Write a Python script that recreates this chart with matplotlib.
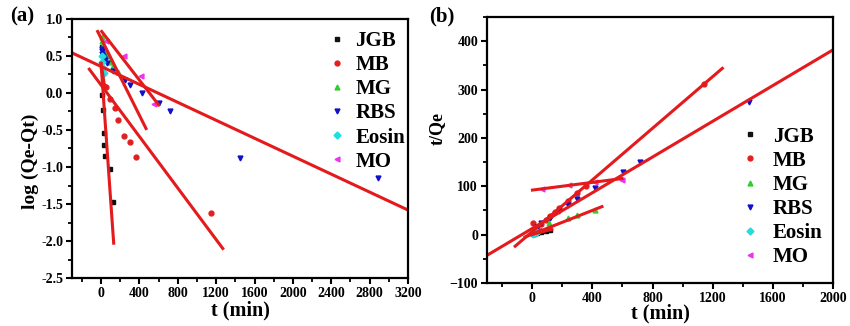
import numpy as np
import matplotlib
matplotlib.use("Agg")
import matplotlib.pyplot as plt

plt.rcParams['font.family'] = ['Liberation Serif', 'DejaVu Serif']
plt.rcParams['font.weight'] = 'bold'

dyes = ["JGB", "MB", "MG", "RBS", "Eosin", "MO"]
colors = ["#111111", "#e02020", "#33cc33", "#1010c8", "#22dddd", "#ee33ee"]
markers = ["s", "o", "^", "v", "D", "<"]

# (a) pseudo-first-order: t (min) vs log(Qe-Qt)
ta_jgb = [5, 7, 18, 28, 34, 45, 97, 128]
ya_jgb = [0.62, -0.03, -0.23, -0.54, -0.70, -0.85, -1.03, -1.47]
ta_mb = [30, 52, 97, 146, 181, 243, 306, 365, 1147]
ya_mb = [0.10, 0.075, -0.085, -0.20, -0.36, -0.58, -0.66, -0.87, -1.62]
ta_mg = [5, 10, 20, 30, 45, 60, 90, 120, 180]
ya_mg = [0.75, 0.70, 0.65, 0.60, 0.55, 0.50, 0.42, 0.36, 0.28]
ta_rbs = [5, 10, 15, 20, 30, 45, 60, 122, 254, 306, 428, 608, 723, 1449, 2892]
ya_rbs = [0.60, 0.56, 0.53, 0.50, 0.47, 0.44, 0.40, 0.29, 0.18, 0.11, 0.005, -0.14, -0.24, -0.875, -1.15]
ta_eo = [5, 10, 20, 30]
ya_eo = [0.50, 0.42, 0.34, 0.27]
ta_mo = [52, 243, 417, 549]
ya_mo = [0.70, 0.50, 0.23, -0.15]
ta_all = [ta_jgb, ta_mb, ta_mg, ta_rbs, ta_eo, ta_mo]
ya_all = [ya_jgb, ya_mb, ya_mg, ya_rbs, ya_eo, ya_mo]

# fitted lines (a): slope, intercept, t range
fit_a_slope = [-0.0184, -0.00174, -0.0026, -0.000606, -0.0085, -0.00167]
fit_a_icpt = [0.40, 0.108, 0.739, 0.358, 0.40, 0.842]
fit_a_t0 = [0, -122, -35, -300, 0, 7]
fit_a_t1 = [132, 1269, 469, 3200, 40, 600]

# (b) pseudo-second-order: t (min) vs t/Qe
tb_jgb = [5, 10, 20, 30, 60, 90, 120]
yb_jgb = [1, 1.5, 2.5, 3.5, 5.5, 8, 10]
tb_mb = [5, 30, 60, 90, 120, 150, 180, 240, 300, 360, 1142]
yb_mb = [24, 14, 22, 30, 38, 46, 54, 70, 85, 101, 312]
tb_mg = [30, 109, 240, 300, 420]
yb_mg = [8, 23, 35, 40, 50]
tb_rbs = [30, 60, 120, 180, 240, 298, 420, 602, 720, 1442]
yb_rbs = [16, 24, 35, 48, 62, 74, 97, 129, 150, 274]
tb_eo = [5, 10, 20, 30]
yb_eo = [2, 3, 4, 6]
tb_mo = [64, 242, 420, 600]
yb_mo = [94, 102, 108, 113]
tb_all = [tb_jgb, tb_mb, tb_mg, tb_rbs, tb_eo, tb_mo]
yb_all = [yb_jgb, yb_mb, yb_mg, yb_rbs, yb_eo, yb_mo]

fit_b_slope = [0.08, 0.267, 0.123, 0.1847, 0.15, 0.04]
fit_b_icpt = [0.5, 6.2, 0.8, 12.6, 0.5, 92]
fit_b_t0 = [0, -113, -47, -300, 0, 2]
fit_b_t1 = [130, 1264, 464, 2000, 60, 598]

line_red = "#e41a1c"

fig = plt.figure(figsize=(8.5, 3.26), dpi=100)
axa = fig.add_axes([0.085, 0.147, 0.395, 0.795])
axb = fig.add_axes([0.573, 0.132, 0.407, 0.816])


def style(ax):
    for s in ax.spines.values():
        s.set_linewidth(1.6)
    ax.tick_params(which='major', direction='out', length=4.5, width=1.5,
                   labelsize=10, pad=2, top=False, right=False)
    ax.tick_params(which='minor', direction='out', length=3, width=1.3,
                   top=False, right=False)
    for lab in ax.get_xticklabels() + ax.get_yticklabels():
        lab.set_fontweight('bold')


for i, d in enumerate(dyes):
    axa.plot(ta_all[i], ya_all[i], linestyle='none', marker=markers[i],
             color=colors[i], markersize=3.5, label=d)
for i in range(len(dyes)):
    tt = np.array([fit_a_t0[i], fit_a_t1[i]])
    axa.plot(tt, fit_a_slope[i] * tt + fit_a_icpt[i], color=line_red, lw=2.2)

axa.set_xlim(-300, 3200)
axa.set_ylim(-2.5, 1.0)
axa.set_xticks(np.arange(0, 3201, 400))
axa.set_xticks(np.arange(-200, 3201, 200), minor=True)
axa.set_yticks(np.arange(-2.5, 1.01, 0.5))
axa.set_yticks(np.arange(-2.5, 1.01, 0.25), minor=True)
axa.set_yticklabels([f"{v:.1f}" for v in np.arange(-2.5, 1.01, 0.5)])
axa.set_xlabel("t (min)", fontsize=14.5, fontweight='bold', labelpad=0)
axa.set_ylabel("log (Qe-Qt)", fontsize=14, fontweight='bold', labelpad=1)
axa.yaxis.set_label_coords(-0.1, 0.45)
style(axa)
axa.legend(loc='upper right', bbox_to_anchor=(1.035, 1.01), frameon=False,
           prop={'weight': 'bold', 'size': 15}, handlelength=0.6,
           handletextpad=0.6, labelspacing=0.2, borderaxespad=0.3,
           markerscale=1.0)

for i, d in enumerate(dyes):
    axb.plot(tb_all[i], yb_all[i], linestyle='none', marker=markers[i],
             color=colors[i], markersize=3.5, label=d)
for i in range(len(dyes)):
    tt = np.array([fit_b_t0[i], fit_b_t1[i]])
    axb.plot(tt, fit_b_slope[i] * tt + fit_b_icpt[i], color=line_red, lw=2.2)

axb.set_xlim(-300, 2000)
axb.set_ylim(-100, 450)
axb.set_xticks(np.arange(0, 2001, 400))
axb.set_xticks(np.arange(-200, 2001, 200), minor=True)
axb.set_yticks(np.arange(-100, 401, 100))
axb.set_yticks(np.arange(-100, 451, 50), minor=True)
axb.set_xlabel("t (min)", fontsize=14.5, fontweight='bold', labelpad=-1)
axb.set_ylabel("t/Qe", fontsize=13, fontweight='bold', labelpad=2)
axb.yaxis.set_label_coords(-0.12, 0.58)
style(axb)
axb.legend(loc='lower right', bbox_to_anchor=(1.03, -0.02), frameon=False,
           prop={'weight': 'bold', 'size': 15}, handlelength=0.6,
           handletextpad=0.8, labelspacing=0.2, borderaxespad=0.6)

fig.text(0.012, 0.935, "(a)", fontsize=15, fontweight='bold')
fig.text(0.505, 0.935, "(b)", fontsize=15, fontweight='bold')

fig.savefig("out.png", dpi=100)
